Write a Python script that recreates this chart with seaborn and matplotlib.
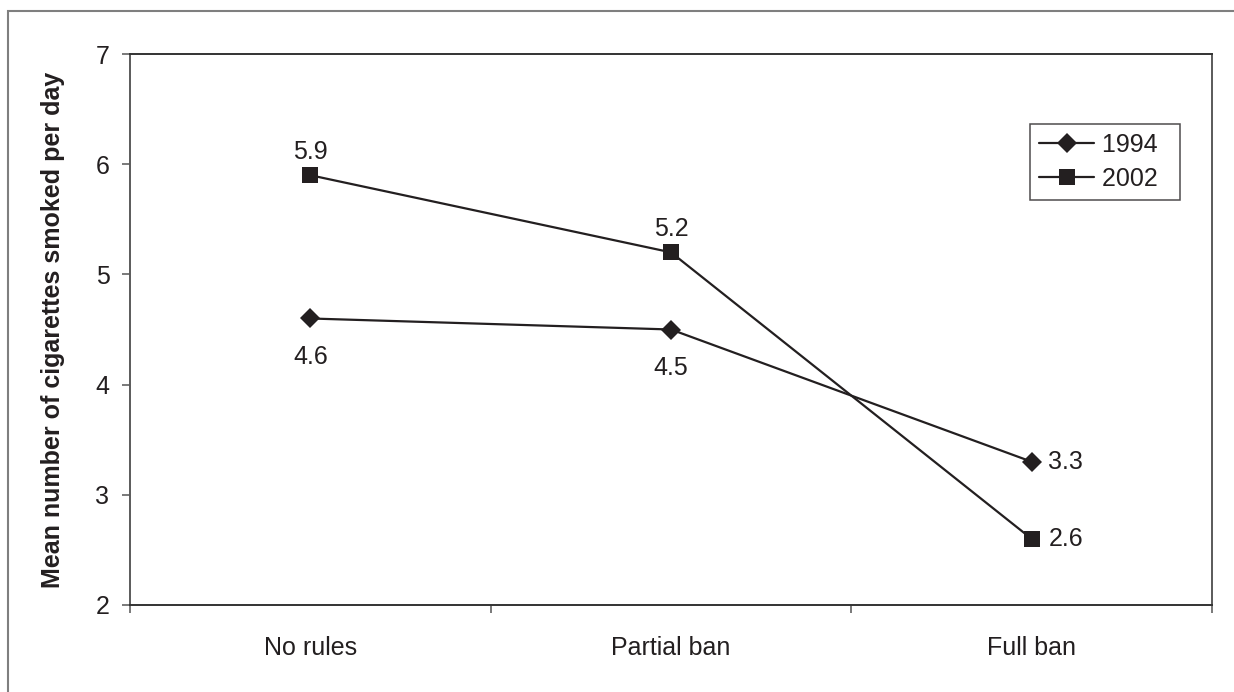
import matplotlib
matplotlib.use("Agg")
import matplotlib.pyplot as plt
from matplotlib.patches import Rectangle
from matplotlib.ticker import FixedLocator, NullFormatter
import pandas as pd
import seaborn as sns

# Mean cigarettes smoked per day by workplace smoking policy
policies = ["No rules", "Partial ban", "Full ban"]
years = ["1994", "2002"]
cigs_1994 = [4.6, 4.5, 3.3]
cigs_2002 = [5.9, 5.2, 2.6]
yticks = [2, 3, 4, 5, 6, 7]

df = pd.DataFrame({
    "policy": policies * 2,
    "year": [years[0]] * len(policies) + [years[1]] * len(policies),
    "cigs": cigs_1994 + cigs_2002,
})

sns.set_theme(style="white")
plt.rcParams["font.family"] = ["Liberation Sans", "DejaVu Sans"]

ink = "#231f20"
frame_grey = "#7f7f7f"
W, H = 1234, 692

fig = plt.figure(figsize=(W / 100, H / 100), dpi=100)
fig.patch.set_facecolor("white")
ax = fig.add_axes([130 / W, 1 - 605 / H, (1212 - 130) / W, (605 - 54) / H])

size_map = {years[0]: 10, years[1]: 11.5}

sns.lineplot(
    data=df, x="policy", y="cigs", hue="year", style="year",
    palette={years[0]: ink, years[1]: ink},
    markers={years[0]: "D", years[1]: "s"}, dashes=False,
    sort=False, linewidth=1.6, ax=ax,
)
for line in ax.lines:
    line.set_markeredgecolor(ink)
    line.set_markeredgewidth(0)
    line.set_markerfacecolor(ink)
for line, yr in zip(ax.lines[:2], years):
    line.set_markersize(size_map[yr])

# value labels
fs = 18
offsets_1994 = [(0, -28, "center", "center"), (0, -28, "center", "center"), (12, 0, "left", "center")]
offsets_2002 = [(0, 17, "center", "center"), (0, 17, "center", "center"), (12, 0, "left", "center")]
for vals, offs in ((cigs_1994, offsets_1994), (cigs_2002, offsets_2002)):
    for i, (v, (dx, dy, ha, va)) in enumerate(zip(vals, offs)):
        ax.annotate(f"{v:.1f}", (i, v), xytext=(dx, dy), textcoords="offset points",
                    ha=ha, va=va, fontsize=fs, color=ink)

ax.set_xlim(-0.5, len(policies) - 0.5)
ax.set_ylim(min(yticks), max(yticks))
ax.set_yticks(yticks)
ax.set_yticklabels([str(t) for t in yticks])
ax.set_xticks(range(len(policies)))
ax.set_xticklabels(policies)
ax.xaxis.set_minor_locator(FixedLocator([i - 0.5 for i in range(len(policies) + 1)]))
ax.xaxis.set_minor_formatter(NullFormatter())

ax.tick_params(axis="y", which="major", direction="out", length=5.8, width=1.1,
               color="#555555", labelsize=fs, labelcolor=ink, pad=9, left=True)
ax.tick_params(axis="x", which="major", length=0, labelsize=fs, labelcolor=ink, pad=22)
ax.tick_params(axis="x", which="minor", direction="out", length=5.8, width=1.1,
               color="#555555", bottom=True)

for name, sp in ax.spines.items():
    sp.set_visible(True)
    sp.set_linewidth(1.4)
ax.spines["left"].set_color("#5a5a5a")
ax.spines["right"].set_color("#5a5a5a")
ax.spines["top"].set_color("#333333")
ax.spines["bottom"].set_color("#333333")

ax.set_xlabel("")
ax.set_ylabel("Mean number of cigarettes smoked per day", fontsize=fs,
              fontweight="bold", color=ink)
ax.yaxis.set_label_coords(-0.06, 0.5)

handles, labels = ax.get_legend_handles_labels()
for h, yr in zip(handles, labels):
    h.set_color(ink)
    h.set_markeredgecolor(ink)
    h.set_markerfacecolor(ink)
    h.set_markeredgewidth(0)
    h.set_linewidth(1.6)
    h.set_markersize(size_map.get(yr, 10))
# trailing spaces give the legend box its wider right margin
leg = ax.legend(handles, [f"{lbl}  " for lbl in labels], loc="upper right",
                bbox_to_anchor=((1180 - 130) / 1082, (605 - 124) / 551),
                borderaxespad=0, fontsize=fs, frameon=True, fancybox=False,
                edgecolor=ink, handlelength=2.2, handletextpad=0.3,
                labelspacing=0.4, borderpad=0.35)
leg.get_frame().set_linewidth(1.1)
for t in leg.get_texts():
    t.set_color(ink)

# outer chart-area border (left and top edges only are within the image)
fig.add_artist(Rectangle((8 / W, -1), 2, 1 + (1 - 11 / H), transform=fig.transFigure,
                         fill=False, edgecolor=frame_grey, linewidth=1.5, clip_on=False))

fig.savefig("out.png", dpi=100, facecolor="white")
